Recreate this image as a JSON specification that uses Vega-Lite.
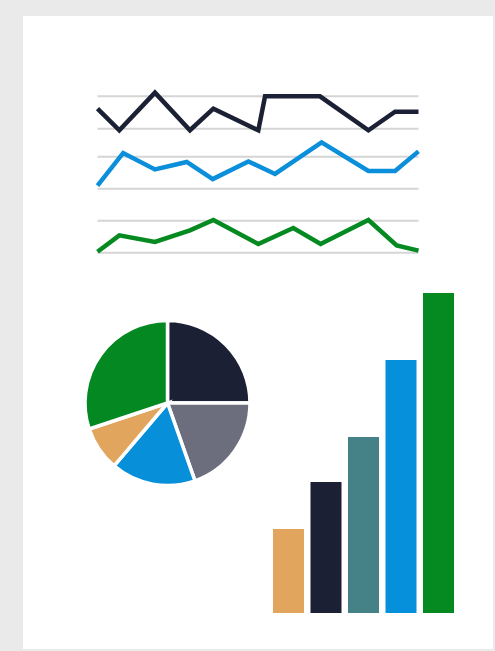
{
  "$schema": "https://vega.github.io/schema/vega-lite/v6.json",
  "background": "#eaeaea",
  "padding": {"left": 23, "top": 16, "right": 2, "bottom": 2},
  "bounds": "flush",
  "spacing": 0,
  "config": {"view": {"fill": "white", "stroke": null}, "concat": {"spacing": 0}},
  "resolve": {"scale": {"color": "independent"}},
  "vconcat": [
    {
      "width": 470,
      "height": 277,
      "layer": [
        {
          "data": {"values": [{"g": 0}, {"g": 2}, {"g": 4}, {"g": 6}, {"g": 7.75}, {"g": 9.78}]},
          "mark": {"type": "rule", "stroke": "#d5d5d5", "strokeWidth": 2},
          "encoding": {
            "y": {"field": "g", "type": "quantitative", "scale": {"domain": [-2.52, 14.79], "nice": false, "zero": false}, "axis": null},
            "x": {"datum": 0, "type": "quantitative", "scale": {"domain": [-2.321, 12.321], "nice": false, "zero": false}, "axis": null},
            "x2": {"datum": 10}
          }
        },
        {
          "data": {"values": [
            {"series": "a", "t": 0, "v": 9.0}, {"series": "a", "t": 0.68, "v": 7.65}, {"series": "a", "t": 1.79, "v": 10.0},
            {"series": "a", "t": 2.88, "v": 7.65}, {"series": "a", "t": 3.61, "v": 9.0}, {"series": "a", "t": 5.01, "v": 7.65},
            {"series": "a", "t": 5.22, "v": 9.77}, {"series": "a", "t": 6.93, "v": 9.77}, {"series": "a", "t": 8.44, "v": 7.65},
            {"series": "a", "t": 9.27, "v": 8.81}, {"series": "a", "t": 10, "v": 8.81},
            {"series": "b", "t": 0, "v": 4.19}, {"series": "b", "t": 0.8, "v": 6.23}, {"series": "b", "t": 1.79, "v": 5.2},
            {"series": "b", "t": 2.78, "v": 5.67}, {"series": "b", "t": 3.59, "v": 4.6}, {"series": "b", "t": 4.7, "v": 5.7},
            {"series": "b", "t": 5.53, "v": 4.92}, {"series": "b", "t": 6.98, "v": 6.89}, {"series": "b", "t": 8.44, "v": 5.11},
            {"series": "b", "t": 9.27, "v": 5.11}, {"series": "b", "t": 10, "v": 6.33},
            {"series": "c", "t": 0, "v": 0.06}, {"series": "c", "t": 0.68, "v": 1.08}, {"series": "c", "t": 1.79, "v": 0.67},
            {"series": "c", "t": 2.88, "v": 1.39}, {"series": "c", "t": 3.61, "v": 2.04}, {"series": "c", "t": 5.01, "v": 0.54},
            {"series": "c", "t": 6.1, "v": 1.54}, {"series": "c", "t": 6.95, "v": 0.54}, {"series": "c", "t": 8.44, "v": 2.04},
            {"series": "c", "t": 9.32, "v": 0.45}, {"series": "c", "t": 10, "v": 0.13}
          ]},
          "mark": {"type": "line", "strokeWidth": 4.5, "strokeCap": "butt", "strokeJoin": "miter"},
          "encoding": {
            "x": {"field": "t", "type": "quantitative", "axis": null},
            "y": {"field": "v", "type": "quantitative", "axis": null},
            "color": {"field": "series", "type": "nominal", "scale": {"domain": ["a", "b", "c"], "range": ["#1b2034", "#0b8fdb", "#058a22"]}, "legend": null}
          }
        }
      ]
    },
    {
      "spacing": 0,
      "bounds": "flush",
      "resolve": {"scale": {"color": "independent", "theta": "independent"}},
      "hconcat": [
        {
          "width": 226,
          "height": 356,
          "data": {"values": [
            {"seg": "A", "v": 25}, {"seg": "B", "v": 19.6}, {"seg": "C", "v": 16.6}, {"seg": "D", "v": 8.7}, {"seg": "E", "v": 30.1}
          ]},
          "mark": {"type": "arc", "outerRadius": 82.5, "stroke": "white", "strokeWidth": 3.5},
          "encoding": {
            "x": {"datum": 0.6394, "type": "quantitative", "scale": {"domain": [0, 1], "nice": false, "zero": false}, "axis": null},
            "y": {"datum": 0.691, "type": "quantitative", "scale": {"domain": [0, 1], "nice": false, "zero": false}, "axis": null},
            "theta": {"field": "v", "type": "quantitative", "stack": true},
            "order": {"field": "seg", "type": "ordinal"},
            "color": {"field": "seg", "type": "nominal", "scale": {"domain": ["A", "B", "C", "D", "E"], "range": ["#1b2034", "#6c6e7e", "#078fda", "#e2a55e", "#038822"]}, "legend": null}
          }
        },
        {
          "width": 244,
          "height": 356,
          "data": {"values": [
            {"bar": "A", "v": 26.25}, {"bar": "B", "v": 40.94}, {"bar": "C", "v": 55}, {"bar": "D", "v": 79.06}, {"bar": "E", "v": 100}
          ]},
          "mark": {"type": "bar"},
          "encoding": {
            "x": {"field": "bar", "type": "nominal", "sort": null, "axis": null, "scale": {"paddingInner": 0.17333, "paddingOuter": 0.84, "align": 0.381}},
            "y": {"field": "v", "type": "quantitative", "axis": null, "scale": {"domain": [-11.25, 100], "nice": false, "zero": false}},
            "color": {"field": "bar", "type": "nominal", "scale": {"domain": ["A", "B", "C", "D", "E"], "range": ["#e2a55d", "#1b2034", "#458288", "#068fdb", "#058a22"]}, "legend": null}
          }
        }
      ]
    }
  ]
}
